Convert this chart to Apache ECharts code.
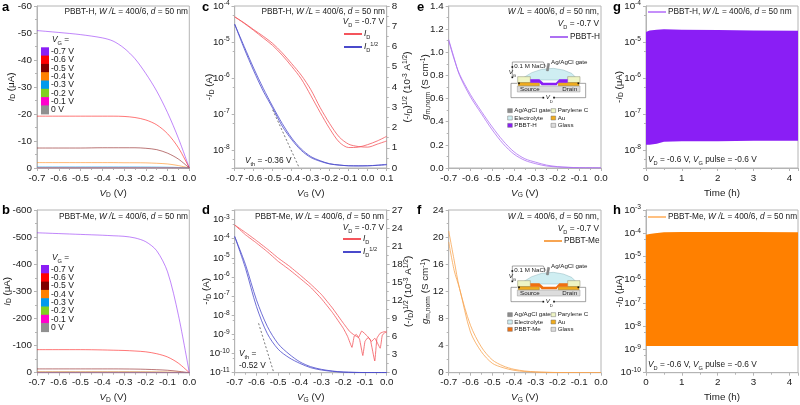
<!DOCTYPE html>
<html><head><meta charset="utf-8">
<style>html,body{margin:0;padding:0;background:#fff}#c{width:800px;height:405px}</style>
<script src="https://cdn.jsdelivr.net/npm/echarts@6/dist/echarts.min.js"></script>
</head><body><div id="c"></div>
<script>
// ---- data ----
const vgLabels = ['-0.7 V','-0.6 V','-0.5 V','-0.4 V','-0.3 V','-0.2 V','-0.1 V','0 V'];
const vgColors = ['#8a1ef5','#ff0000','#800000','#ff8000','#0099ee','#80d020','#ff00cc','#909090'];
const vd = [-0.7,-0.6,-0.5,-0.4,-0.35,-0.3,-0.25,-0.2,-0.15,-0.1,-0.05,0];
// panel a
const aP07 = [-50.9,-50.2,-49.4,-48.2,-47,-44.4,-40.5,-35,-28.5,-20.5,-11,0];
const aP06 = [-19.2,-19.2,-19.2,-19.2,-19.2,-19.1,-18.7,-17.8,-16,-12.7,-7.5,0];
const aP05 = [-7.4,-7.4,-7.4,-7.5,-7.5,-7.5,-7.5,-7.3,-6.8,-5.5,-3.3,0];
const aP04 = [-2,-2,-2,-2,-2,-1.95,-1.95,-1.9,-1.75,-1.5,-0.9,0];
const aP03 = [-0.4,-0.4,-0.4,-0.4,-0.4,-0.4,-0.4,-0.38,-0.35,-0.3,-0.2,0];
const aP02 = [-0.1,-0.1,-0.1,-0.1,-0.1,-0.1,-0.1,-0.1,-0.09,-0.08,-0.05,0];
const aP01 = [-0.05,-0.05,-0.05,-0.05,-0.05,-0.05,-0.05,-0.05,-0.04,-0.03,-0.02,0];
const aP00 = [-0.02,-0.02,-0.02,-0.02,-0.02,-0.02,-0.02,-0.02,-0.02,-0.01,-0.01,0];
// panel b
const bP07 = [-516,-513,-510,-507,-505,-503,-497,-483,-450,-372,-212,0];
const bP06 = [-85,-85,-85,-84,-83,-82,-80,-77,-70,-58,-35,0];
const bP05 = [-14,-14,-14,-14,-14,-13.8,-13.4,-12.5,-11,-9,-5,0];
const bP04 = [-4,-4,-4,-4,-4,-4,-3.9,-3.7,-3.3,-2.6,-1.5,0];
const bP03 = [-1.5,-1.5,-1.5,-1.5,-1.5,-1.5,-1.5,-1.4,-1.3,-1,-0.6,0];
const bP02 = [-0.5,-0.5,-0.5,-0.5,-0.5,-0.5,-0.5,-0.5,-0.4,-0.3,-0.2,0];
const bP01 = [-0.2,-0.2,-0.2,-0.2,-0.2,-0.2,-0.2,-0.2,-0.2,-0.1,-0.1,0];
const bP00 = [-0.1,-0.1,-0.1,-0.1,-0.1,-0.1,-0.1,-0.1,-0.1,-0.1,0,0];
// panel c
const cVg = [-0.7,-0.65,-0.6,-0.55,-0.5,-0.45,-0.4,-0.35,-0.3,-0.25,-0.2,-0.15,-0.1,-0.05,0,0.05,0.1];
const cIdA = [5e-5,3.4e-5,2.2e-5,1.45e-5,9.1e-6,5e-6,2.5e-6,1.2e-6,4.8e-7,1.5e-7,5.4e-8,2.3e-8,1.45e-8,1.25e-8,1.2e-8,1.45e-8,1.78e-8];
const cIdB = [5e-5,3.3e-5,2.1e-5,1.3e-5,8e-6,4.3e-6,2.1e-6,9.5e-7,3.3e-7,1.1e-7,3.9e-8,1.66e-8,1.17e-8,1.2e-8,1.41e-8,1.78e-8,2.4e-8];
const cRootA = [7.1,6,4.93,3.94,3.04,2.2,1.48,0.94,0.57,0.36,0.21,0.15,0.11,0.11,0.11,0.13,0.16];
const cRootB = [7.1,5.9,4.8,3.8,2.95,2.07,1.4,0.87,0.52,0.33,0.2,0.14,0.11,0.1,0.11,0.14,0.18];
const cVthX = [-0.5,-0.36];
const cVthY = [2.87,0];
// panel d
const dVgA = [-0.7,-0.65,-0.6,-0.55,-0.5,-0.45,-0.4,-0.35,-0.3,-0.25,-0.2,-0.17,-0.15,-0.13,-0.115,-0.09,-0.075,-0.055,-0.045,-0.03,-0.01,0];
const dIdA = [5.2e-4,2.1e-4,8e-5,2.9e-5,9.8e-6,3.8e-6,1.3e-6,4.2e-7,1.2e-7,2.4e-8,3.9e-9,1.4e-9,9.3e-10,7e-10,1.5e-9,8.3e-10,5.1e-10,4.1e-11,6.3e-10,1.15e-9,1.4e-9,1.2e-9];
const dVgB = [-0.7,-0.65,-0.6,-0.55,-0.5,-0.45,-0.4,-0.35,-0.3,-0.25,-0.2,-0.18,-0.16,-0.15,-0.14,-0.125,-0.11,-0.1,-0.085,-0.07,-0.055,-0.03,-0.02,0];
const dIdB = [5.2e-4,1.6e-4,6e-5,2.1e-5,6.6e-6,2.5e-6,8.7e-7,2.9e-7,7.2e-8,1.4e-8,2.1e-9,7.8e-10,2.1e-10,7.8e-10,1e-9,5.6e-10,7.9e-11,4.3e-10,7e-10,4.3e-10,6.3e-10,1.9e-10,9.3e-10,1.5e-9];
const dVg = [-0.7,-0.65,-0.6,-0.55,-0.5,-0.45,-0.4,-0.35,-0.3,-0.25,-0.2,-0.1,0];
const dRootA = [22.6,17.9,12.1,7.7,4.8,3.1,1.8,1,0.55,0.28,0.11,0.03,0.03];
const dRootB = [22.6,17.3,11,6.5,3.9,2.5,1.55,0.83,0.44,0.22,0.1,0.03,0.03];
const dVthX = [-0.59,-0.52];
const dVthY = [8.2,0];
// panels e, f
const gmVg = [-0.7,-0.675,-0.65,-0.6,-0.55,-0.5,-0.45,-0.4,-0.35,-0.3,-0.25,-0.2,-0.15,-0.1,0];
const eGmA = [1.11,0.95,0.8,0.615,0.47,0.33,0.21,0.12,0.066,0.037,0.017,0.009,0.005,0.002,0.001];
const eGmB = [1.1,0.94,0.81,0.635,0.49,0.355,0.235,0.14,0.08,0.05,0.025,0.012,0.006,0.003,0.001];
const fGmA = [20.9,16.6,12.4,7,3.8,1.9,1,0.5,0.25,0.12,0.06,0.03,0.02,0.01,0.005];
const fGmB = [19.3,15.1,12.4,6,3.1,1.4,0.74,0.35,0.17,0.09,0.05,0.02,0.01,0.01,0.005];
// panels g, h : envelope of the pulsed current
const gT = [0,0.1,0.3,0.5,1,2,3,4.24];
const gHigh = [1.9e-5,2.1e-5,2.2e-5,2.25e-5,2.2e-5,2.15e-5,2.1e-5,2.05e-5];
const gLow = [1.4e-8,1.4e-8,1.5e-8,1.7e-8,1.75e-8,1.75e-8,1.8e-8,1.8e-8];
const hT = [0,0.1,0.25,0.5,1,2,3,4.24];
const hHigh = [8.7e-5,9.3e-5,1e-4,1.1e-4,1.13e-4,1.13e-4,1.13e-4,1.1e-4];
const hLow = [1.4e-9,1.4e-9,1.4e-9,1.4e-9,1.4e-9,1.4e-9,1.4e-9,1.4e-9];

// ---- layout ----
const FONT = '"Liberation Sans",Arial,sans-serif';
const GREY = '#b4b4b4', INK = '#1a1a1a';
const PURPLE = '#8a1ef5', ORANGE = '#ff8000', RED = '#f4555c', BLUE = '#4a4acb';
const TX = 8.3, TK = 9.8;
const rich = (fs) => ({
  i:{fontStyle:'italic',fontSize:fs,fontFamily:FONT,color:INK,lineHeight:12},
  s:{fontSize:fs*0.68,fontFamily:FONT,color:INK,verticalAlign:'bottom'},
  u:{fontSize:fs*0.68,fontFamily:FONT,color:INK,verticalAlign:'top'},
  n:{fontSize:fs,fontFamily:FONT,color:INK,lineHeight:12}
});
const cols = [37,234.7,448.7,646];
const widths = [152.3,152,152.3,152];
const rows = [{t:6,b:168},{t:210,b:372.7}];
const W = 800, H = 405;

const grid=[], xAxis=[], yAxis=[], series=[], legend=[];
function addGrid(cx,ry){
  grid.push({left:cols[cx],top:rows[ry].t,width:widths[cx],height:rows[ry].b-rows[ry].t,show:true,borderColor:GREY,borderWidth:1,backgroundColor:'transparent',outerBoundsMode:'none',containLabel:false});
  return grid.length-1;
}
const axisBase = {
  axisLine:{show:true,onZero:false,lineStyle:{color:GREY,width:1}},
  axisTick:{show:true,length:3,lineStyle:{color:GREY,width:1}},
  minorTick:{show:true,splitNumber:2,length:2,lineStyle:{color:GREY,width:1}},
  splitLine:{show:false},minorSplitLine:{show:false}
};
function addX(g,min,max,interval,name,fmt){
  xAxis.push(Object.assign({},axisBase,{type:'value',gridIndex:g,min,max,interval,
    name,nameLocation:'middle',nameGap:19,nameMoveOverlap:false,
    nameTextStyle:{fontSize:TK,fontFamily:FONT,color:INK,lineHeight:12,rich:rich(TK)},
    axisLabel:{fontSize:TK,fontFamily:FONT,color:INK,margin:5,formatter:fmt,hideOverlap:false}}));
  return xAxis.length-1;
}
function addY(g,opts,name,gap,pos){
  const ax = Object.assign({},axisBase,{gridIndex:g,position:pos||'left',
    name,nameLocation:'middle',nameGap:gap,nameRotate:90,nameMoveOverlap:false,
    nameTextStyle:{fontSize:TK,fontFamily:FONT,color:INK,lineHeight:12,rich:rich(TK)}},opts);
  yAxis.push(ax);
  return yAxis.length-1;
}
const f1 = v => v.toFixed(1);
const intOnly = v => Math.abs(v-Math.round(v))<1e-6 ? String(Math.round(v)) : '';
const decade = v => { const e=Math.log10(v); return Math.abs(e-Math.round(e))<1e-6 ? '{n|10}{u|'+Math.round(e)+'}' : ''; };
const lab = (fmt) => ({fontSize:TK,fontFamily:FONT,color:INK,margin:5,formatter:fmt,rich:rich(TK)});
const logY = (min,max) => ({type:'log',logBase:10,min,max,axisLabel:lab(decade),minorTick:{show:true,splitNumber:2,length:2,lineStyle:{color:GREY,width:1}}});
const valY = (min,max,interval,fmt) => ({type:'value',min,max,interval,axisLabel:lab(fmt||(v=>String(v)))});
const zip = (xs,ys) => xs.map((x,i)=>[x,ys[i]]);
function line(name,xi,yi,xs,ys,color,width,extra){
  series.push(Object.assign({name,type:'line',xAxisIndex:xi,yAxisIndex:yi,data:zip(xs,ys),showSymbol:false,symbol:'none',
    smooth:0.3,lineStyle:{color,width:width||0.8},itemStyle:{color},clip:true,animation:false},extra||{}));
}
function paleLine(name,xi,yi,xs,ys,color){
  line(name,xi,yi,xs,ys,color,0.9,{lineStyle:{color,width:0.9,opacity:0.6}});
}
function band(name,xi,yi,ts,hi,lo,color){
  series.push({name,type:'custom',xAxisIndex:xi,yAxisIndex:yi,clip:true,animation:false,itemStyle:{color},
    data:ts.map((t,i)=>[t,hi[i],lo[i]]),encode:{x:0,y:[1,2]},
    renderItem(params,api){
      if(params.dataIndex!==0) return null;
      const up=ts.map((t,i)=>api.coord([t,hi[i]]));
      const dn=ts.map((t,i)=>api.coord([t,lo[i]])).reverse();
      return {type:'polygon',shape:{points:up.concat(dn)},style:{fill:color}};
    }});
}
const ID = 'ID', ROOT = 'ID1/2';
const lineLegend = (name,left,top,fmt,iw) => legend.push({show:true,data:[name],left,top,orient:'vertical',itemWidth:iw||18,itemHeight:2,itemGap:0,padding:0,selectedMode:false,
  textStyle:{fontSize:TX,fontFamily:FONT,color:INK,lineHeight:12,padding:[0,0,0,-3],rich:rich(TX)},formatter:fmt});
const vName = s => '{i|V}{s|'+s+'}{n| (V)}';
const rootName = '{n|(-}{i|I}{s|D}{n|)}{u|1/2}{n| (10}{u|-3}{n| A}{u|1/2}{n|)}';

// a
{ const g=addGrid(0,0), x=addX(g,-0.7,0,0.1,vName('D'),f1),
  y=addY(g,Object.assign(valY(-60,0,10),{inverse:true}),'{i|I}{s|D}{n| (μA)}',20);
  [aP07,aP06,aP05,aP04,aP03,aP02,aP01,aP00].forEach((d,i)=>paleLine(vgLabels[i],x,y,vd,d,vgColors[i])); }
// c
{ const g=addGrid(1,0), x=addX(g,-0.7,0.1,0.1,vName('G'),f1),
  y=addY(g,logY(3.16e-9,1e-4),'{n|-}{i|I}{s|D}{n| (A)}',19),
  y2=addY(g,valY(0,8,1),rootName,15,'right');
  line(ID,x,y,cVg,cIdA,RED); line(ID,x,y,cVg,cIdB,RED);
  line(ROOT,x,y2,cVg,cRootA,BLUE); line(ROOT,x,y2,cVg,cRootB,BLUE);
  line('Vth c',x,y2,cVthX,cVthY,'#555',0.8,{smooth:false,lineStyle:{color:'#555',width:0.8,type:[2,2]}});
}
// e
{ const g=addGrid(2,0), x=addX(g,-0.7,0,0.1,vName('G'),f1),
  y=addY(g,valY(0,1.4,0.2,f1),'{i|g}{s|m,norm}{n| (S cm}{u|-1}{n|)}',17);
  line('PBBT-H',x,y,gmVg,eGmA,'#ad70f2'); line('PBBT-H',x,y,gmVg,eGmB,'#ad70f2'); }
// g
{ const g=addGrid(3,0), x=addX(g,0,4.24,1,'{n|Time (h)}',intOnly),
  y=addY(g,logY(3.16e-9,1e-4),'{n|-}{i|I}{s|D}{n| (μA)}',21);
  band('g',x,y,gT,gHigh,gLow,PURPLE); }
// b
{ const g=addGrid(0,1), x=addX(g,-0.7,0,0.1,vName('D'),f1),
  y=addY(g,Object.assign(valY(-600,0,100),{inverse:true}),'{i|I}{s|D}{n| (μA)}',24);
  [bP07,bP06,bP05,bP04,bP03,bP02,bP01,bP00].forEach((d,i)=>paleLine(vgLabels[i],x,y,vd,d,vgColors[i])); }
// d
{ const g=addGrid(1,1), x=addX(g,-0.7,0,0.1,vName('G'),f1),
  y=addY(g,logY(1e-11,3.16e-3),'{n|-}{i|I}{s|D}{n| (A)}',22),
  y2=addY(g,valY(0,27,3),rootName,16,'right');
  line(ID,x,y,dVgA,dIdA,RED,0.8,{smooth:0.1}); line(ID,x,y,dVgB,dIdB,RED,0.8,{smooth:0.1});
  line(ROOT,x,y2,dVg,dRootA,BLUE); line(ROOT,x,y2,dVg,dRootB,BLUE);
  line('Vth d',x,y2,dVthX,dVthY,'#555',0.8,{smooth:false,lineStyle:{color:'#555',width:0.8,type:[2,2]}});
}
// f
{ const g=addGrid(2,1), x=addX(g,-0.7,0,0.1,vName('G'),f1),
  y=addY(g,valY(0,24,4),'{i|g}{s|m,norm}{n| (S cm}{u|-1}{n|)}',17);
  line('PBBT-Me',x,y,gmVg,fGmA,'#f7a552'); line('PBBT-Me',x,y,gmVg,fGmB,'#f7a552'); }
// h
{ const g=addGrid(3,1), x=addX(g,0,4.24,1,'{n|Time (h)}',intOnly),
  y=addY(g,logY(1e-10,1e-3),'{n|-}{i|I}{s|D}{n| (μA)}',21);
  band('h',x,y,hT,hHigh,hLow,ORANGE); }

// legends
[[41,47.3],[41,265]].forEach(([l,t])=>legend.push({show:true,data:vgLabels,left:l,top:t,orient:'vertical',icon:'rect',itemWidth:8,itemHeight:9,itemGap:-0.7,padding:0,selectedMode:false,
  textStyle:{fontSize:TX+0.3,fontFamily:FONT,color:INK,lineHeight:9,padding:[0,0,0,-3]}}));
const idFmt = n => n===ID ? '{i|I}{s|D}' : '{i|I}{s|D}{u|1/2}';
lineLegend(ID,343,28,idFmt); lineLegend(ROOT,343,41,idFmt);
lineLegend(ID,342,233,idFmt); lineLegend(ROOT,342,246,idFmt);
lineLegend('PBBT-H',549,31,n=>n); lineLegend('PBBT-Me',543,235,n=>n);
const wl = '{n|PBBT-X, }{i|W /L}{n| = 400/6, }{i|d}{n| = 50 nm}';
lineLegend('g',648,6,()=>wl.replace('X','H')); lineLegend('h',648,211,()=>wl.replace('X','Me'));
legend.slice(-2).forEach(l=>{l.icon='rect';l.itemHeight=1;});

// text + schematic
const gfx=[];
function text(x,y,t,opt){
  gfx.push({type:'text',x,y,z:10,silent:true,style:Object.assign({text:t,fontSize:TX,fontFamily:FONT,fill:INK,lineHeight:12,align:'left',verticalAlign:'middle',rich:rich(TX)},opt||{})});
}
[['a',2,7],['c',202,7],['e',417,7],['g',613,7],['b',2,210],['d',202,210],['f',417,210],['h',613,210]].forEach(([s,x,y])=>
  text(x,y,s,{fontSize:13,fontWeight:'bold',fill:'#000'}));
const wlText = s => '{n|'+s+', }{i|W /L}{n| = 400/6, }{i|d}{n| = 50 nm}';
const wlShort = '{i|W /L}{n| = 400/6, }{i|d}{n| = 50 nm,}';
const vdText = '{i|V}{s|D}{n| = -0.7 V}';
const R = {align:'right'};
text(188,12,wlText('PBBT-H'),R); text(188,217,wlText('PBBT-Me'),R);
text(52,40,'{i|V}{s|G}{n| =}'); text(52,258,'{i|V}{s|G}{n| =}');
text(385,12,wlText('PBBT-H'),R); text(384,22,vdText,R);
text(384,217,wlText('PBBT-Me'),R); text(384,228,vdText,R);
text(245,161,'{i|V}{s|th}{n| = -0.36 V}');
text(239,354,'{i|V}{s|th}{n| =}'); text(239,366,'{n|-0.52 V}');
text(599,12,wlShort,R); text(599,24,vdText,R);
text(599,217,wlShort,R); text(599,229,vdText,R);
const pulse='{i|V}{s|D}{n| = -0.6 V, }{i|V}{s|G}{n| pulse = -0.6 V}';
text(648,160,pulse); text(648,365,pulse);

function inset(ox,oy,semi,label){
  const X=v=>ox+v/3, Y=v=>oy+v/3;
  const rect=(x0,y0,x1,y1,fill,stroke)=>gfx.push({type:'rect',z:6,silent:true,shape:{x:X(x0),y:Y(y0),width:(x1-x0)/3,height:(y1-y0)/3},style:{fill,stroke:stroke||null,lineWidth:0.5}});
  const poly=(pts,fill,stroke,lw,closed)=>gfx.push({type:closed===false?'polyline':'polygon',z:6,silent:true,shape:{points:pts.map(p=>[X(p[0]),Y(p[1])])},style:{fill:closed===false?null:fill,stroke:stroke||null,lineWidth:lw||0.5}});
  // wires
  poly([[337,230],[337,186],[430,186],[437,200]],null,'#666',0.6,false);
  poly([[352,250],[333,250],[333,293],[430,293]],null,'#666',0.6,false);
  poly([[462,293],[557,293],[557,250],[538,250]],null,'#666',0.6,false);
  // electrolyte dome
  poly([[372,232],[395,218],[425,208],[460,205],[490,210],[515,220],[527,232],[527,240],[372,240]],'#cfeef2','#7fa8b0',0.4);
  // glass
  rect(352,258,540,276,'#dcdcdc','#999');
  // parylene
  rect(353,230,391,248,'#eef5c4','#8a8a70'); rect(503,230,540,248,'#eef5c4','#8a8a70');
  // gold
  rect(355,248,418,257,'#f0ac1e','#a0781a'); rect(475,248,537,257,'#f0ac1e','#a0781a');
  // semiconductor
  poly([[391,238],[418,238],[430,248],[468,248],[478,238],[503,238],[503,248],[475,248],[470,256],[425,256],[418,248],[391,248]],semi);
  // gate
  poly([[443,190],[449,191],[445,213],[439,212]],'#8c8c8c','#666',0.4);
  // contacts
  [[337,201],[337,232],[357,250],[535,250],[430,293],[462,293]].forEach(p=>rect(p[0]-2.5,p[1]-2.5,p[0]+2.5,p[1]+2.5,'#111'));
  const t=(x,y,s,o)=>text(X(x),Y(y),s,Object.assign({fontSize:6.2,rich:rich(6.2)},o||{}));
  t(343,198,'{n|0.1 M NaCl}'); t(453,188,'{n|Ag/AgCl gate}');
  t(326,216,'{i|V}{s|G}'); t(437,293,'{i|V}{s|D}');
  t(360,267,'{n|Source}'); t(487,267,'{n|Drain}');
  const sw=[[323,332,'#8c8c8c','Ag/AgCl gate'],[453,332,'#eef5c4','Parylene C'],[323,354,'#cfeef2','Electrolyte'],[453,354,'#f0ac1e','Au'],[323,376,semi,label],[453,376,'#dcdcdc','Glass']];
  sw.forEach(([x,y,c,s])=>{ rect(x,y-6,x+14,y+6,c,'#777'); t(x+20,y,'{n|'+s+'}'); });
}
inset(400,0,'#8a1ef5','PBBT-H');
inset(400,204,'#f07010','PBBT-Me');

const chart = echarts.init(document.getElementById('c'),null,{renderer:'canvas',width:W,height:H});
chart.setOption({animation:false,backgroundColor:'#fff',textStyle:{fontFamily:FONT},grid,xAxis,yAxis,series,legend,graphic:{elements:gfx}});
</script></body></html>
